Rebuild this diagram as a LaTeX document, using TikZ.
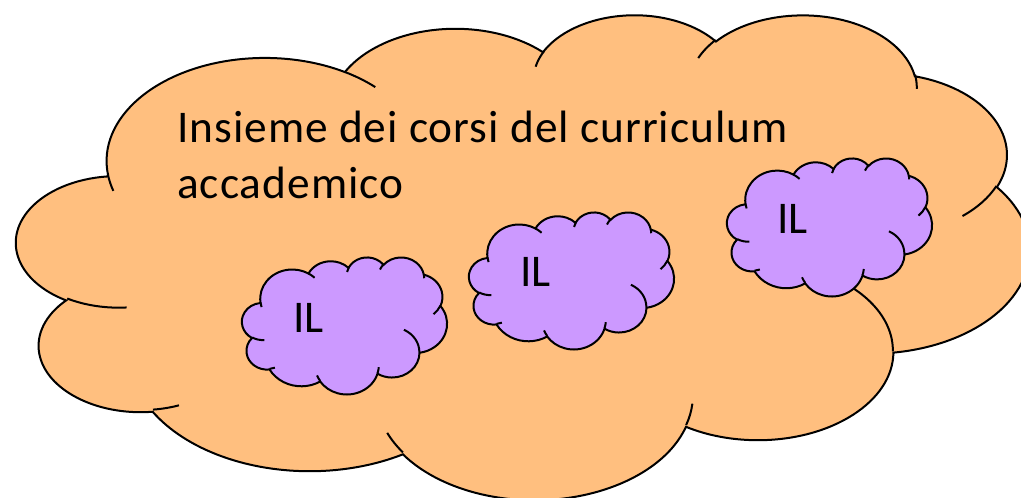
\documentclass[tikz,border=0pt]{standalone}
\usepackage{fontspec}
\setmainfont{Carlito}
\newfontfamily\titlefont[LetterSpace=2.2]{Carlito}
\definecolor{cloudorange}{RGB}{255,191,127}
\definecolor{cloudpurple}{RGB}{204,153,255}

% arc of an ellipse, angles given as visual (ray) angles, as in DrawingML
\newcommand\clarc[4]{%
  \pgfmathsetmacro\clta{atan2((#1)*sin(#3),(#2)*cos(#3))}%
  \pgfmathsetmacro\cltb{atan2((#1)*sin((#3)+(#4)),(#2)*cos((#3)+(#4)))}%
  \pgfmathsetmacro\cltb{\cltb<\clta ? \cltb+360 : \cltb}%
  \pgfpatharc{\clta}{\cltb}{#1pt and #2pt}%
}
\newcommand\cloudoutline{%
  \pgfpathmoveto{\pgfpoint{3.9pt}{14.37pt}}%
  \clarc{6.753}{9.190}{-190.48748}{123.78053}%
  \clarc{5.333}{7.267}{-144.10238}{89.94523}%
  \clarc{4.365}{5.945}{-145.80792}{99.72302}%
  \clarc{4.857}{6.595}{-130.98607}{117.24173}%
  \clarc{5.333}{7.273}{-78.70888}{109.02692}%
  \clarc{6.775}{9.220}{-46.26725}{130.26900}%
  \clarc{5.785}{7.867}{0.62502}{114.03333}%
  \clarc{6.752}{9.215}{22.45160}{115.17255}%
  \clarc{7.720}{10.543}{66.24263}{75.71102}%
  \clarc{4.360}{5.918}{-274.94208}{146.73557}%
  \clarc{4.345}{5.945}{-246.82850}{152.51885}%
  \pgfpathclose
}
\newcommand\cloudinner{%
  \pgfpathmoveto{\pgfpoint{4.693pt}{26.177pt}}\clarc{4.345}{5.945}{86.74200}{26.42950}%
  \pgfpathmoveto{\pgfpoint{6.928pt}{34.899pt}}\clarc{4.360}{5.918}{73.61047}{11.44747}%
  \pgfpathmoveto{\pgfpoint{16.478pt}{39.090pt}}\clarc{6.752}{9.215}{137.62415}{14.08110}%
  \pgfpathmoveto{\pgfpoint{28.827pt}{34.751pt}}\clarc{6.752}{9.215}{6.45327}{15.99835}%
  \pgfpathmoveto{\pgfpoint{34.129pt}{22.954pt}}\clarc{5.785}{7.867}{-70.29235}{70.91737}%
  \pgfpathmoveto{\pgfpoint{41.798pt}{15.354pt}}\clarc{5.333}{7.273}{30.31803}{27.75150}%
  \pgfpathmoveto{\pgfpoint{38.324pt}{5.426pt}}\clarc{4.857}{6.595}{-13.74433}{14.85890}%
  \pgfpathmoveto{\pgfpoint{29.078pt}{3.952pt}}\clarc{4.857}{6.595}{-149.18145}{18.19537}%
  \pgfpathmoveto{\pgfpoint{22.141pt}{4.720pt}}\clarc{4.365}{5.945}{-163.49427}{17.68635}%
  \pgfpathmoveto{\pgfpoint{14.000pt}{5.192pt}}\clarc{6.753}{9.190}{-66.70695}{12.31935}%
  \pgfpathmoveto{\pgfpoint{4.127pt}{15.789pt}}\clarc{6.753}{9.190}{157.65435}{11.85817}%
}
% left, top, width, height in pixels; fill colour
\newcommand\drawcloud[5]{%
  \begin{pgfscope}
    \pgftransformshift{\pgfpoint{0.75pt*#1}{-0.75pt*#2}}%
    \pgfmathsetmacro\clsx{0.75*#3/43.2}%
    \pgfmathsetmacro\clsy{-0.75*#4/43.2}%
    \pgftransformxscale{\clsx}%
    \pgftransformyscale{\clsy}%
    \pgfsetlinewidth{1.5pt}%
    \pgfsetfillcolor{#5}%
    \pgfsetstrokecolor{black}%
    \cloudoutline
    \pgfusepath{fill,stroke}%
    \cloudinner
    \pgfusepath{stroke}%
  \end{pgfscope}%
}

\begin{document}
\begin{tikzpicture}[x=0.75pt, y=-0.75pt,
  label/.style={inner sep=0pt, anchor=base west, text=black},
  titletext/.style={label, font=\titlefont\fontsize{34}{42}\selectfont},
  iltext/.style={label, font=\fontsize{34}{42}\selectfont}]
  \path[use as bounding box, fill=white] (0,0) rectangle (1021,498);
  \drawcloud{16.6}{13.7}{1012.7}{484.8}{cloudorange}
  \drawcloud{242}{257}{205}{137}{cloudpurple}
  \drawcloud{469}{212}{205}{137}{cloudpurple}
  \drawcloud{727}{158}{205}{138}{cloudpurple}
  \node[titletext] (title1) at (177,143) {Insieme dei corsi del curriculum};
  \node[titletext] (title2) at (177,199) {accademico};
  \node[iltext] (il1) at (293,333) {IL};
  \node[iltext] (il2) at (520,287) {IL};
  \node[iltext] (il3) at (777,234) {IL};
\end{tikzpicture}
\end{document}
